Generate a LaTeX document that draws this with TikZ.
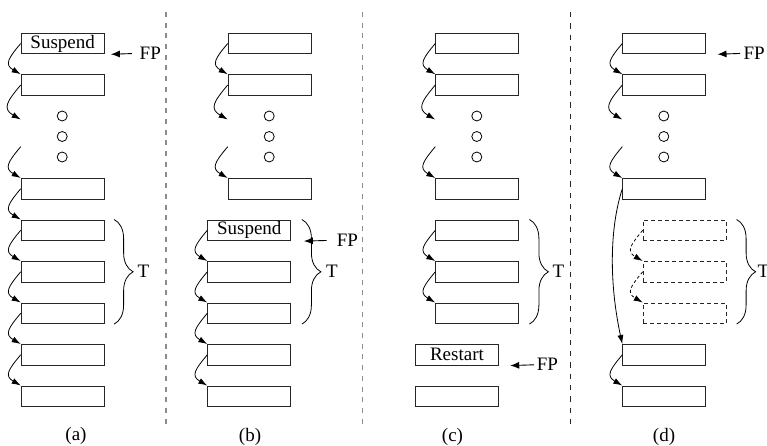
\documentclass[tikz,border=0pt]{standalone}
\usepackage{fontspec}
\setmainfont{Liberation Serif}
\usetikzlibrary{arrows.meta,decorations.pathreplacing}
\newcommand\figfont{\fontsize{19}{22}\selectfont}
\begin{document}
\begin{tikzpicture}[x=1pt,y=1pt,
  cell/.style={draw=black!85, line width=0.9pt, minimum width=83pt,
    minimum height=20.7pt, inner sep=0pt, anchor=north west, font=\figfont},
  ghost/.style={cell, dash pattern=on 4pt off 3pt},
  link/.style={-{Latex[length=9pt,width=6pt]}, line width=0.8pt,
    out=230, in=150, looseness=1.6},
  ghostlink/.style={link, dash pattern=on 3pt off 2.5pt},
  dot/.style={circle, draw, line width=0.8pt, minimum size=10pt, inner sep=0pt},
  fparrow/.style={-{Latex[length=9pt,width=7pt]}, line width=0.9pt},
  lbl/.style={font=\figfont, inner sep=0pt},
  tbrace/.style={decorate, decoration={brace, amplitude=19pt}, line width=0.8pt},
  sepgray/.style={line width=1.3pt, black!45, dash pattern=on 5pt off 5.7pt},
  sepdark/.style={line width=0.8pt, black!85, dash pattern=on 5.3pt off 6pt}
]
\useasboundingbox (0,0) rectangle (767,-446);

% ---------- panel (a) ----------
\node[cell] (a1) at (20.7,-32.7) {Suspend};
\node[cell] (a2) at (20.7,-74.2) {};
\node[dot] (ao1) at (62.2,-116) {};
\node[dot] (ao2) at (62.2,-136.5) {};
\node[dot] (ao3) at (62.2,-157) {};
\node[cell] (a3) at (20.7,-178) {};
\node[cell] (a4) at (20.7,-219.5) {};
\node[cell] (a5) at (20.7,-261) {};
\node[cell] (a6) at (20.7,-302.5) {};
\node[cell] (a7) at (20.7,-344) {};
\node[cell] (a8) at (20.7,-385.5) {};
\coordinate (a2end) at (20.7,-119.5);
\coordinate (a3start) at (20.7,-146.7);
\draw[link] (a1.west) to (a2.north west);
\draw[link] (a2.west) to (a2end);
\draw[link] (a3start) to (a3.north west);
\draw[link] (a3.west) to (a4.north west);
\draw[link] (a4.west) to (a5.north west);
\draw[link] (a5.west) to (a6.north west);
\draw[link] (a6.west) to (a7.north west);
\draw[link] (a7.west) to (a8.north west);
\draw[tbrace] ([xshift=9.5pt]a4.north east) -- ([xshift=9.5pt]a6.south east);
\node[lbl, anchor=west] (ta) at (137.5,-271.5) {T};
\node[lbl, anchor=west] (fpa) at (139.5,-53.3) {FP};
\coordinate (fpatip) at ([xshift=6.3pt]a1.south east);
\draw[fparrow, shorten <=7.7pt] (fpa.west) -- (fpatip);
\node[lbl] (capa) at (76,-436) {(a)};

\draw[sepgray] (166,-12) -- (166,-426);

% ---------- panel (b) ----------
\node[cell] (b1) at (227.7,-32.7) {};
\node[cell] (b2) at (227.7,-74.2) {};
\node[dot] (bo1) at (269.2,-116) {};
\node[dot] (bo2) at (269.2,-136.5) {};
\node[dot] (bo3) at (269.2,-157) {};
\node[cell] (b3) at (227.7,-178) {};
\node[cell] (b4) at (207.3,-219.5) {Suspend};
\node[cell] (b5) at (207.3,-261) {};
\node[cell] (b6) at (207.3,-302.5) {};
\node[cell] (b7) at (207.3,-344) {};
\node[cell] (b8) at (207.3,-385.5) {};
\coordinate (b2end) at (227.7,-119.5);
\coordinate (b3start) at (227.7,-146.7);
\draw[link] (b1.west) to (b2.north west);
\draw[link] (b2.west) to (b2end);
\draw[link] (b3start) to (b3.north west);
\draw[link] (b4.west) to (b5.north west);
\draw[link] (b5.west) to (b6.north west);
\draw[link] (b6.west) to (b7.north west);
\draw[link] (b7.west) to (b8.north west);
\draw[tbrace] ([xshift=10.7pt]b4.north east) -- ([xshift=10.7pt]b6.south east);
\node[lbl, anchor=west] (tb) at (326,-271.5) {T};
\node[lbl, anchor=west] (fpb) at (336.7,-240.2) {FP};
\coordinate (fpbtip) at ([xshift=12.7pt]b4.south east);
\draw[fparrow, shorten <=10pt] (fpb.west) -- (fpbtip);
\node[lbl] (capb) at (250,-436.7) {(b)};

\draw[sepgray] (362.7,-12) -- (362.7,-426);

% ---------- panel (c) ----------
\node[cell] (c1) at (435.3,-32.7) {};
\node[cell] (c2) at (435.3,-74.2) {};
\node[dot] (co1) at (476.8,-116) {};
\node[dot] (co2) at (476.8,-136.5) {};
\node[dot] (co3) at (476.8,-157) {};
\node[cell] (c3) at (435.3,-178) {};
\node[cell] (c4) at (435.3,-219.5) {};
\node[cell] (c5) at (435.3,-261) {};
\node[cell] (c6) at (435.3,-302.5) {};
\node[cell] (c7) at (415,-344) {Restart};
\node[cell] (c8) at (415,-385.5) {};
\coordinate (c2end) at (435.3,-119.5);
\coordinate (c3start) at (435.3,-146.7);
\draw[link] (c1.west) to (c2.north west);
\draw[link] (c2.west) to (c2end);
\draw[link] (c3start) to (c3.north west);
\draw[link] (c4.west) to (c5.north west);
\draw[link] (c5.west) to (c6.north west);
\draw[tbrace] ([xshift=10.2pt]c4.north east) -- ([xshift=10.2pt]c6.south east);
\node[lbl, anchor=west] (tc) at (552.3,-271.5) {T};
\node[lbl, anchor=west] (fpc) at (536.7,-364.7) {FP};
\coordinate (fpctip) at ([xshift=11.3pt]c7.south east);
\draw[fparrow, shorten <=2.7pt] (fpc.west) -- (fpctip);
\node[lbl] (capc) at (452.5,-436.7) {(c)};

\draw[sepdark] (570.7,-12) -- (570.7,-426);

% ---------- panel (d) ----------
\node[cell] (d1) at (622.3,-32.7) {};
\node[cell] (d2) at (622.3,-74.2) {};
\node[dot] (do1) at (663.8,-116) {};
\node[dot] (do2) at (663.8,-136.5) {};
\node[dot] (do3) at (663.8,-157) {};
\node[cell] (d3) at (622.3,-178) {};
\node[ghost] (d4) at (642.7,-219.5) {};
\node[ghost] (d5) at (642.7,-261) {};
\node[ghost] (d6) at (642.7,-302.5) {};
\node[cell] (d7) at (622.3,-344) {};
\node[cell] (d8) at (622.3,-385.5) {};
\coordinate (d2end) at (622.3,-119.5);
\coordinate (d3start) at (622.3,-146.7);
\draw[link] (d1.west) to (d2.north west);
\draw[link] (d2.west) to (d2end);
\draw[link] (d3start) to (d3.north west);
\draw[-{Latex[length=9pt,width=6pt]}, line width=0.8pt]
  (d3.west) .. controls +(-13,-40) and +(-13,60) .. (d7.north west);
\draw[ghostlink] (d4.west) to (d5.north west);
\draw[ghostlink] (d5.west) to (d6.north west);
\draw[link] (d7.west) to (d8.north west);
\draw[tbrace] ([xshift=10pt]d4.north east) -- ([xshift=10pt]d6.south east);
\node[lbl, anchor=west] (td) at (757.5,-271.5) {T};
\node[lbl, anchor=west] (fpd) at (743.3,-53.3) {FP};
\coordinate (fpdtip) at ([xshift=11.3pt]d1.south east);
\draw[fparrow, shorten <=3.3pt] (fpd.west) -- (fpdtip);
\node[lbl] (capd) at (664,-437) {(d)};
\end{tikzpicture}
\end{document}
